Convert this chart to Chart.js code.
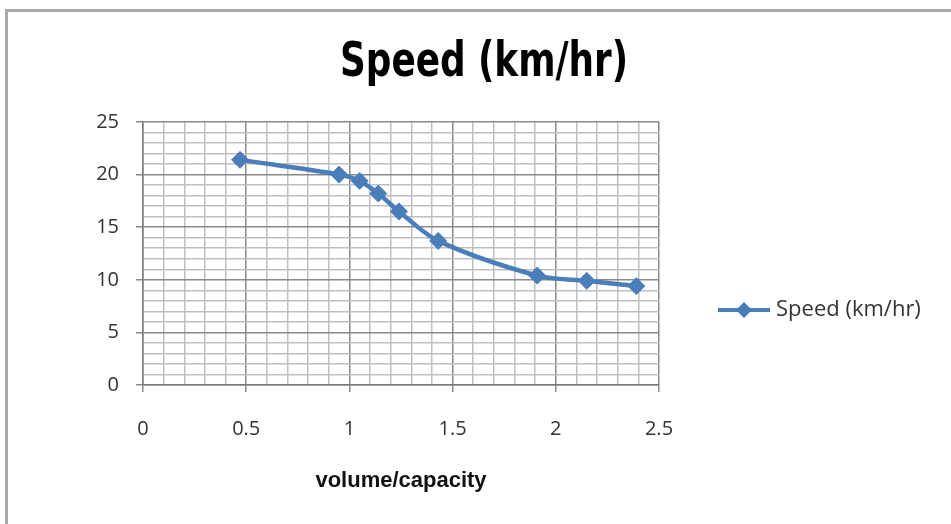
<!DOCTYPE html>
<html>
<head>
<meta charset="utf-8">
<title>Speed (km/hr)</title>
<script src="https://cdn.jsdelivr.net/npm/chart.js@4/dist/chart.umd.min.js"></script>
<style>
    html, body { margin: 0; padding: 0; background: #fff; }
    #frame {
        position: absolute;
        left: 5px;
        top: 9px;
        width: 960px;
        height: 530px;
        border-left: 3px solid #a8a8a8;
        border-top: 3px solid #a8a8a8;
        box-sizing: border-box;
    }
    #wrap { position: absolute; left: 0; top: 0; width: 951px; height: 524px; }
</style>
</head>
<body>
<div id="frame"></div>
<div id="wrap"><canvas id="speedChart" width="951" height="524"></canvas></div>
<script>
// Speed vs volume/capacity
const vcRatio = [0.47, 0.95, 1.05, 1.14, 1.24, 1.43, 1.91, 2.15, 2.39];
const speedKmh = [21.4, 20.0, 19.4, 18.2, 16.5, 13.7, 10.4, 9.9, 9.4];

const xTickLabels = ['0', '0.5', '1', '1.5', '2', '2.5'];
const yTickLabels = ['0', '5', '10', '15', '20', '25'];

const chartTitle = 'Speed (km/hr)';

const seriesColor = '#4a7ebb';
const majorGrid = '#8a8a8a';
const minorGrid = '#bfbfbf';

const tickFont = { family: '"Open Sans", Lato, sans-serif', size: 20 };

function isMajor(value, step) {
    const r = value / step;
    return Math.abs(r - Math.round(r)) < 1e-6;
}

function labelFor(value, step, labels) {
    if (!isMajor(value, step)) return '';
    return labels[Math.round(value / step)] || '';
}

// Heavy narrow title centred over the whole frame (not just the plot)
const frameTitle = {
    id: 'frameTitle',
    afterDraw(chart) {
        const { ctx } = chart;
        ctx.save();
        ctx.font = 'bold 48px "DejaVu Sans", sans-serif';
        if ('fontStretch' in ctx) ctx.fontStretch = 'condensed';
        const w = ctx.measureText(chartTitle).width;
        const target = 288;
        ctx.translate(484, 64);
        ctx.scale(target / w, 1);
        ctx.fillStyle = '#000';
        ctx.textAlign = 'center';
        ctx.textBaseline = 'middle';
        ctx.fillText(chartTitle, 0, 0);
        ctx.restore();
    }
};

// Legend drawn to the right of the plot
const sideLegend = {
    id: 'sideLegend',
    afterDraw(chart) {
        const { ctx, chartArea } = chart;
        const ds = chart.data.datasets[0];
        const x0 = chartArea.right + 59;
        const y = 310;
        ctx.save();
        ctx.strokeStyle = ds.borderColor;
        ctx.lineWidth = 4;
        ctx.beginPath();
        ctx.moveTo(x0, y);
        ctx.lineTo(x0 + 52, y);
        ctx.stroke();
        ctx.fillStyle = ds.borderColor;
        ctx.beginPath();
        ctx.moveTo(x0 + 26, y - 8);
        ctx.lineTo(x0 + 34, y);
        ctx.lineTo(x0 + 26, y + 8);
        ctx.lineTo(x0 + 18, y);
        ctx.closePath();
        ctx.fill();
        ctx.fillStyle = '#333';
        ctx.font = '22px "Open Sans", Lato, sans-serif';
        ctx.textBaseline = 'middle';
        ctx.fillText(ds.label, x0 + 58, y);
        ctx.restore();
    }
};

const ctx = document.getElementById('speedChart');

new Chart(ctx, {
    type: 'line',
    data: {
        datasets: [{
            label: chartTitle,
            data: vcRatio.map((v, i) => ({ x: v, y: speedKmh[i] })),
            borderColor: seriesColor,
            backgroundColor: seriesColor,
            borderWidth: 4.5,
            tension: 0.3,
            pointStyle: 'rectRot',
            pointRadius: 8.5,
            pointBorderWidth: 1,
            pointBackgroundColor: seriesColor,
            pointBorderColor: seriesColor
        }]
    },
    options: {
        responsive: false,
        animation: false,
        layout: {
            padding: { left: 0, right: 292, top: 122, bottom: 0 }
        },
        plugins: {
            legend: { display: false },
            tooltip: { enabled: false },
            title: { display: false }
        },
        scales: {
            x: {
                type: 'linear',
                min: 0,
                max: 2.5,
                afterFit: scale => { scale.height = 139; },
                ticks: {
                    stepSize: 0.1,
                    autoSkip: false,
                    maxRotation: 0,
                    padding: 25,
                    color: '#333',
                    font: tickFont,
                    callback: v => labelFor(v, 0.5, xTickLabels)
                },
                grid: {
                    tickLength: 7,
                    lineWidth: 1.5,
                    color: c => isMajor(c.tick.value, 0.5) ? majorGrid : minorGrid,
                    tickColor: c => isMajor(c.tick.value, 0.5) ? majorGrid : 'rgba(0,0,0,0)'
                },
                border: { color: '#7a7a7a', width: 1.5 },
                title: {
                    display: true,
                    text: 'volume/capacity',
                    color: '#111',
                    font: { family: '"Liberation Sans", Arial, sans-serif', size: 22, weight: 'bold' },
                    padding: { top: 0, bottom: 30 }
                }
            },
            y: {
                min: 0,
                max: 25,
                afterFit: scale => { scale.width = 143; },
                ticks: {
                    stepSize: 1,
                    autoSkip: false,
                    padding: 17,
                    color: '#333',
                    font: tickFont,
                    callback: v => labelFor(v, 5, yTickLabels)
                },
                grid: {
                    tickLength: 7,
                    lineWidth: 1.5,
                    color: c => isMajor(c.tick.value, 5) ? majorGrid : minorGrid,
                    tickColor: c => isMajor(c.tick.value, 5) ? majorGrid : 'rgba(0,0,0,0)'
                },
                border: { color: '#7a7a7a', width: 1.5 }
            }
        }
    },
    plugins: [frameTitle, sideLegend]
});
</script>
</body>
</html>
